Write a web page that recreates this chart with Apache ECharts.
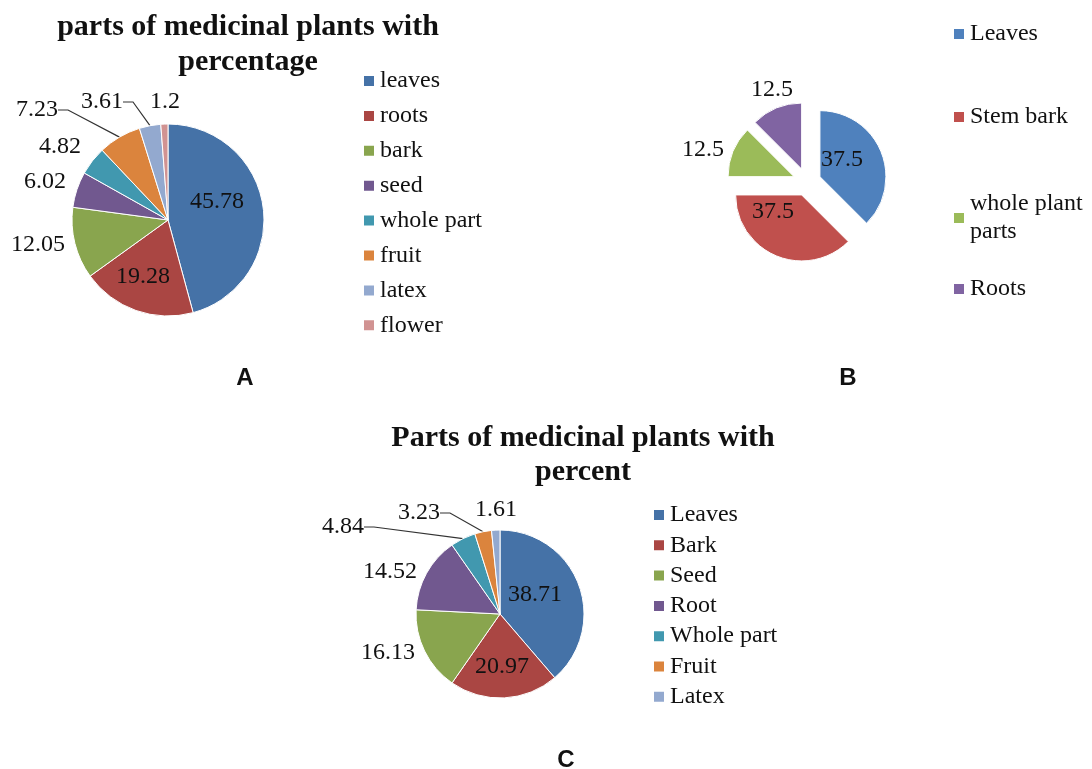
<!DOCTYPE html>
<html><head><meta charset="utf-8">
<script src="https://cdn.jsdelivr.net/npm/echarts@6/dist/echarts.min.js"></script>
<style>html,body{margin:0;padding:0;background:#fff}#c{width:1092px;height:769px}</style>
</head><body><div id="c"></div>
<script>
// Chart A
const catsA = ['leaves','roots','bark','seed','whole part','fruit','latex','flower'];
const valsA = [45.78, 19.28, 12.05, 6.02, 4.82, 7.23, 3.61, 1.2];
const colorsA = ['#4572A7','#AA4643','#89A54E','#71588F','#4198AF','#DB843D','#93A9CF','#D19392'];
// Chart B
const catsB = ['Leaves','Stem bark','whole plant parts','Roots'];
const valsB = [37.5, 37.5, 12.5, 12.5];
const colorsB = ['#4F81BD','#C0504D','#9BBB59','#8064A2'];
// Chart C
const catsC = ['Leaves','Bark','Seed','Root','Whole part','Fruit','Latex'];
const valsC = [38.71, 20.97, 16.13, 14.52, 4.84, 3.23, 1.61];
const colorsC = ['#4572A7','#AA4643','#89A54E','#71588F','#4198AF','#DB843D','#93A9CF'];
const titleA = 'parts of medicinal plants with\npercentage';
const titleC = 'Parts of medicinal plants with\npercent';

const serif = "'Liberation Serif', 'DejaVu Serif', serif";
const lblFont = {fontFamily: serif, fontSize: 24, color: '#111', overflow: 'none'};

// label placement (text centres), layout only
const labelPosA = [[217,202],[143,277],[38,245],[45,182],[60,147],[37,110],[102,102],[165,102]];
const labelPosB = [[842,160],[773,212],[703,150],[772,90]];
const labelPosC = [[535,595],[502,667],[388,653],[390,572],[343,527],[419,513],[496,510]];
function layoutFrom(pos){
  return function(p){
    const q = pos[p.dataIndex];
    return {x:q[0], y:q[1], align:'center', verticalAlign:'middle'};
  };
}

const lineA = [5,6];
const dataA = catsA.map((n,i)=>({
  name: n, value: valsA[i], itemStyle:{color: colorsA[i]},
  labelLine: {show: lineA.includes(i)}
}));
const dataB = catsB.map((n,i)=>({
  name: n, value: valsB[i], itemStyle:{color: colorsB[i]}, selected: true
}));
const dataBLabels = catsB.map((n,i)=>({
  name: n, value: valsB[i], itemStyle:{color: 'rgba(0,0,0,0)'}, labelLine:{show:false}
}));
const lineC = [4,5];
const dataC = catsC.map((n,i)=>({
  name: n, value: valsC[i], itemStyle:{color: colorsC[i]},
  labelLine: {show: lineC.includes(i)}
}));

const legendText = {fontFamily: serif, fontSize: 24, color:'#111', lineHeight: 24};
const legBase = {orient:'vertical', icon:'rect', itemWidth:12, itemHeight:12, itemGap:10.9, textStyle: legendText, selectedMode:false, padding:0};

const legendsB = catsB.map((n,i)=>({
  ...legBase, data:[{name:n, itemStyle:{color: colorsB[i]}}], left: 952, top: [20,103,190,275][i],
  formatter: nm => nm === 'whole plant parts' ? 'whole plant\nparts' : nm,
  textStyle: {...legendText, lineHeight: 28}
}));

const chart = echarts.init(document.getElementById('c'));
chart.setOption({
  animation:false,
  backgroundColor:'#fff',
  graphic: [
    {type:'text', x:248, y:10, style:{text:titleA, font:"bold 30px "+serif, textAlign:'center', textVerticalAlign:'top', lineHeight:35, fill:'#111'}},
    {type:'text', x:583, y:421, style:{text:titleC, font:"bold 30px "+serif, textAlign:'center', textVerticalAlign:'top', lineHeight:34, fill:'#111'}},
    {type:'text', x:245, y:378, style:{text:'A', font:"bold 24px 'Liberation Sans', Arial, sans-serif", textAlign:'center', textVerticalAlign:'middle', fill:'#111'}},
    {type:'text', x:848, y:378, style:{text:'B', font:"bold 24px 'Liberation Sans', Arial, sans-serif", textAlign:'center', textVerticalAlign:'middle', fill:'#111'}},
    {type:'text', x:566, y:760, style:{text:'C', font:"bold 24px 'Liberation Sans', Arial, sans-serif", textAlign:'center', textVerticalAlign:'middle', fill:'#111'}}
  ],
  legend: [
    {...legBase, data: catsA.map((n,i)=>({name:n, itemStyle:{color:colorsA[i]}})), left: 362, top: 69},
    {...legBase, data: catsC.map((n,i)=>({name:n, itemStyle:{color:colorsC[i]}})), left: 652, top: 503, itemGap: 6.3},
    ...legendsB
  ],
  series: [
    {type:'pie', name:'A', center:[168,220], radius:96, data:dataA, startAngle:90,
     itemStyle:{borderColor:'#fff', borderWidth:1},
     label:{...lblFont, formatter:'{c}'},
     labelLine:{length:10, length2:10, lineStyle:{color:'#333', width:1.2}},
     labelLayout: layoutFrom(labelPosA),
     emphasis:{disabled:true}},
    {type:'pie', name:'B', center:[807,182], radius:66, data:dataB, startAngle:90,
     selectedMode:'multiple', selectedOffset:14,
     itemStyle:{borderColor:'#fff', borderWidth:1},
     select:{itemStyle:{borderColor:'#fff', borderWidth:1}},
     label:{show:false}, labelLine:{show:false},
     emphasis:{disabled:true}},
    {type:'pie', name:'B labels', center:[807,182], radius:66, data:dataBLabels, startAngle:90,
     silent:true, z:3,
     itemStyle:{borderWidth:0},
     label:{...lblFont, formatter:'{c}'},
     labelLayout: layoutFrom(labelPosB),
     emphasis:{disabled:true}},
    {type:'pie', name:'C', center:[500,614], radius:84, data:dataC, startAngle:90,
     itemStyle:{borderColor:'#fff', borderWidth:1},
     label:{...lblFont, formatter:'{c}'},
     labelLine:{length:10, length2:10, lineStyle:{color:'#333', width:1.2}},
     labelLayout: layoutFrom(labelPosC),
     emphasis:{disabled:true}}
  ]
});
</script></body></html>
